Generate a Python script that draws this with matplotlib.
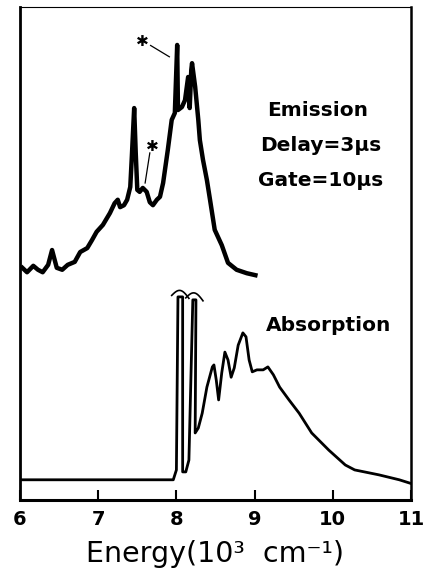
import numpy as np
import matplotlib.pyplot as plt

# emission spectrum (energy in 10^3 cm^-1, intensity in % of axis height)
em_x = [6.03, 6.09, 6.17, 6.23, 6.29, 6.36, 6.41, 6.47, 6.54, 6.61, 6.70, 6.77, 6.86,
        6.92, 6.98, 7.06, 7.15, 7.21, 7.25, 7.28, 7.33, 7.37, 7.41, 7.43, 7.46, 7.48,
        7.50, 7.53, 7.57, 7.62, 7.66, 7.70, 7.75, 7.79, 7.83, 7.89, 7.94, 7.98, 8.01,
        8.02, 8.07, 8.11, 8.15, 8.16, 8.17, 8.19, 8.20, 8.24, 8.28, 8.30, 8.34, 8.39,
        8.43, 8.49, 8.58, 8.66, 8.77, 8.90, 9.01]
em_y = [47.1, 46.2, 47.5, 46.7, 46.2, 47.7, 50.7, 47.1, 46.7, 47.7, 48.3, 50.3, 51.1,
        52.7, 54.4, 55.8, 58.2, 60.2, 60.9, 59.4, 59.8, 60.9, 63.5, 69.6, 79.5, 70.4,
        62.9, 62.5, 63.3, 62.5, 60.4, 59.8, 60.9, 61.5, 64.3, 71.0, 77.1, 78.5, 92.3,
        79.1, 79.7, 81.1, 85.8, 85.2, 79.5, 87.2, 88.6, 83.8, 77.1, 73.0, 69.0, 64.9,
        60.9, 54.8, 51.7, 48.1, 46.7, 46.0, 45.6]

# absorption spectrum (two strongest bands are clipped at the break)
ab_x = [6.00, 7.96, 8.00, 8.02, 8.08, 8.08, 8.12, 8.16, 8.21, 8.25, 8.24, 8.28, 8.33,
        8.39, 8.46, 8.48, 8.51, 8.54, 8.58, 8.62, 8.66, 8.70, 8.74, 8.79, 8.85, 8.89,
        8.93, 8.97, 9.03, 9.11, 9.17, 9.24, 9.32, 9.44, 9.57, 9.73, 9.95, 10.16, 10.28,
        10.59, 10.85, 10.99]
ab_y = [4.1, 4.1, 6.1, 41.2, 41.2, 5.7, 5.7, 8.1, 40.6, 40.6, 13.6, 14.6, 17.6,
        22.9, 27.0, 27.4, 24.3, 20.3, 25.8, 30.0, 28.4, 24.9, 26.8, 31.4, 33.9, 33.1,
        28.4, 26.0, 26.4, 26.4, 27.0, 25.4, 22.9, 20.3, 17.6, 13.6, 10.1, 7.1, 6.1,
        5.1, 4.1, 3.4]

# positions of the clipped bands (break marks drawn on top of them)
break_x = [8.05, 8.23]
break_y = [41.5, 41.0]

# starred lines in emission: (label pos, line start, line end)
stars = [((7.57, 93.1), (7.67, 92.2), (7.91, 89.9)),
         ((7.69, 71.8), (7.66, 70.4), (7.60, 64.3))]

xticks = [6, 7, 8, 9, 10, 11]

fig = plt.figure(figsize=(4.24, 5.78), dpi=100)
ax = fig.add_axes([20 / 424, 78 / 578, 391 / 424, 493 / 578])

ax.plot(em_x, em_y, color="black", linewidth=3.2, solid_joinstyle="round")
ax.plot(ab_x, ab_y, color="black", linewidth=2.0, solid_joinstyle="round")

# wavy break marks over the clipped absorption bands
for bx, by in zip(break_x, break_y):
    t = np.linspace(0, 1, 30)
    ax.plot(bx - 0.11 + 0.22 * t, by + 1.3 * np.sin(np.pi * t) - 0.6 * t,
            color="black", linewidth=1.2)

for (sx, sy), (x0, y0), (x1, y1) in stars:
    ax.text(sx, sy, "✱", fontsize=11, ha="center", va="center", family="DejaVu Sans")
    ax.plot([x0, x1], [y0, y1], color="black", linewidth=0.9)

txt = dict(fontsize=14.5, fontweight="bold", ha="center", va="center", family="DejaVu Sans")
ax.text(9.80, 79.1, "Emission", **txt)
ax.text(9.84, 72.0, "Delay=3μs", **txt)
ax.text(9.84, 64.9, "Gate=10μs", **txt)
ax.text(9.94, 35.3, "Absorption", **txt)

ax.set_xlim(6, 11)
ax.set_ylim(0, 100)
ax.set_yticks([])
ax.set_xticks(xticks)
ax.set_xticklabels([str(v) for v in xticks], fontsize=14, fontweight="bold",
                   family="DejaVu Sans")
ax.tick_params(axis="x", direction="in", length=7, width=1.5, pad=7)
ax.set_xlabel("Energy(10³  cm⁻¹)", fontsize=20.5, family="DejaVu Sans", labelpad=8)

ax.spines["left"].set_linewidth(2.0)
ax.spines["bottom"].set_linewidth(2.2)
ax.spines["right"].set_linewidth(1.8)
ax.spines["top"].set_linewidth(0.8)

fig.savefig("out.png", dpi=100)
